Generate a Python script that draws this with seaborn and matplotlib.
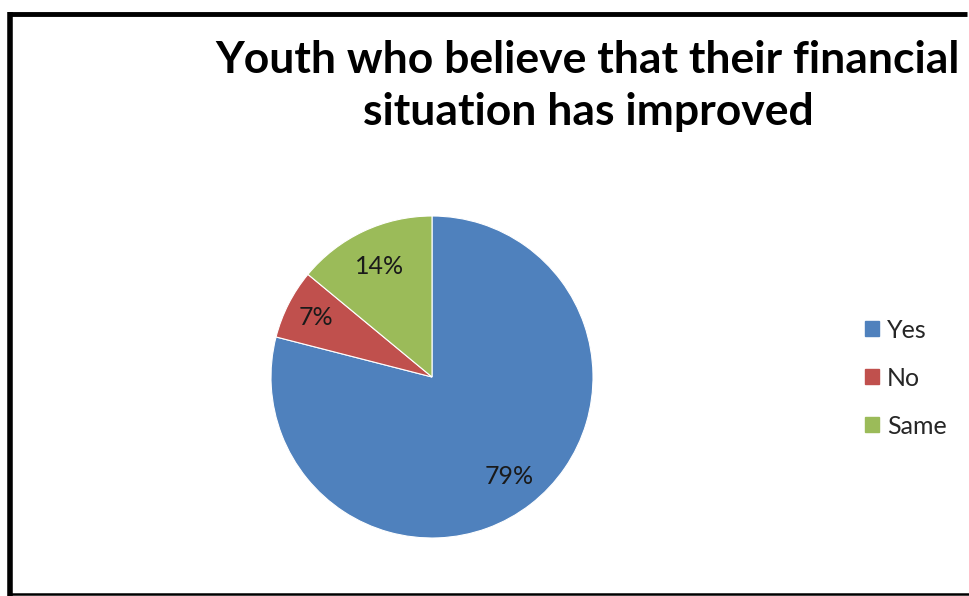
import matplotlib
matplotlib.use("Agg")
import matplotlib.pyplot as plt
from matplotlib.lines import Line2D
import numpy as np
import seaborn as sns

categories = ["Yes", "No", "Same"]
shares = [79, 7, 14]
pct_labels = ["79%", "7%", "14%"]
title = "Youth who believe that their financial\nsituation has improved"

sns.set_theme(style="white")
plt.rcParams["font.family"] = ["Lato", "DejaVu Sans"]

colors = sns.color_palette(["#4F81BD", "#C0504D", "#9BBB59"])

W, H = 970, 596
fig = plt.figure(figsize=(W / 100, H / 100), dpi=100)
fig.patch.set_facecolor("white")

# pie axes placed in pixel terms: centre (432, 377), radius 161
cx, cy, r = 432, 377, 161
ax = fig.add_axes([(cx - r) / W, (H - cy - r) / H, 2 * r / W, 2 * r / H])
wedges, _ = ax.pie(shares, colors=colors, startangle=90, counterclock=False,
                   radius=1.0, wedgeprops=dict(linewidth=0.8, edgecolor="white"))
ax.set_xlim(-1, 1)
ax.set_ylim(-1, 1)
ax.set_aspect("equal")
ax.axis("off")

# percentage labels inside each wedge
dists = [0.78, 0.81, 0.76]
for w, lab, d in zip(wedges, pct_labels, dists):
    ang = np.deg2rad((w.theta1 + w.theta2) / 2)
    ax.text(d * np.cos(ang), d * np.sin(ang), lab, ha="center", va="center",
            fontsize=18, color="#1a1a1a")

# title
fig.text(588 / W, 1 - 86 / H, title, ha="center", va="center",
         fontsize=32, fontweight="bold", color="black", linespacing=1.36)

# legend
handles = [plt.Rectangle((0, 0), 1, 1, color=c) for c in colors]
fig.legend(handles, categories, loc="center left",
           bbox_to_anchor=(843 / W, 1 - 378 / H), frameon=False,
           fontsize=18, handlelength=0.55, handleheight=0.55,
           handletextpad=0.3, labelspacing=1.0)

# black frame around the chart
frame = dict(color="black", transform=fig.transFigure, solid_capstyle="butt")
fig.add_artist(Line2D([8 / W, 967 / W], [1 - 14 / H, 1 - 14 / H], lw=3.5, **frame))
fig.add_artist(Line2D([10 / W, 10 / W], [1 - 12 / H, 0], lw=4, **frame))
fig.add_artist(Line2D([8 / W, W / W], [1 - 594 / H, 1 - 594 / H], lw=1.8, **frame))

fig.savefig("out.png", dpi=100, facecolor="white")
